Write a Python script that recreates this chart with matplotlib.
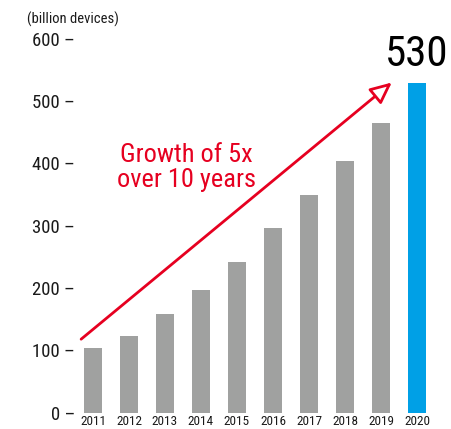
import matplotlib
matplotlib.use("Agg")
import matplotlib.pyplot as plt
from matplotlib import font_manager
from matplotlib.font_manager import FontProperties

years = ["2011", "2012", "2013", "2014", "2015", "2016", "2017", "2018", "2019", "2020"]
devices = [104, 123, 158, 197, 242, 296, 349, 404, 465, 530]
y_ticks = [0, 100, 200, 300, 400, 500, 600]
highlight_label = "530"
arrow_text = "Growth of 5x\nover 10 years"
unit_label = "(billion devices)"

# find a condensed / narrow regular font
cands = []
for f in font_manager.fontManager.ttflist:
    nm = f.name
    fn = f.fname.lower()
    if f.style != 'normal':
        continue
    if f.weight not in (400, 'normal', 'regular'):
        continue
    if 'bold' in fn or 'italic' in fn or 'oblique' in fn or 'light' in fn:
        continue
    if ('narrow' in fn or 'condensed' in fn or 'narrow' in nm.lower()
            or 'condensed' in nm.lower() or str(f.stretch) in ('condensed', 'semi-condensed')):
        cands.append(f)

def rank(f):
    fn = f.fname.lower()
    order = ['liberationsansnarrow', 'opensans_condensed', 'opensanscondensed', 'opensans-condensed',
             'notosans-condensed', 'notosanscondensed', 'robotocondensed', 'dejavusanscondensed']
    for i, k in enumerate(order):
        if k in fn.replace('_', '').replace(' ', '') or k in fn:
            return i
    return 50

cands.sort(key=rank)
if cands:
    FP = lambda size: FontProperties(fname=cands[0].fname, size=size)
else:
    FP = lambda size: FontProperties(family='DejaVu Sans', size=size)

GRAY = "#A0A1A0"
BLUE = "#00A0E6"
RED = "#E60020"
TXT = "#1a1a1a"

fig = plt.figure(figsize=(4.52, 4.29), dpi=100)
ax = fig.add_axes([75/452, (429-412.7)/429, 360/452, (412.7-38.9)/429])

x = list(range(len(years)))
colors = [GRAY] * (len(years) - 1) + [BLUE]
ax.bar(x, devices, width=0.5, color=colors)

ax.set_xlim(-0.5, len(years) - 0.5)
ax.set_ylim(0, 600)
for s in ax.spines.values():
    s.set_visible(False)

ax.set_yticks(y_ticks)
ax.set_yticklabels([f"{v} \u2013" for v in y_ticks], color=TXT)
for t in ax.get_yticklabels():
    t.set_fontproperties(FP(13.5))
ax.tick_params(axis='y', length=0, pad=0)
ax.set_xticks(x)
ax.set_xticklabels(years, color=TXT)
for t in ax.get_xticklabels():
    t.set_fontproperties(FP(9.5))
ax.tick_params(axis='x', length=0, pad=1.5)

# arrow
ax.annotate("", xy=(8.3, 530), xytext=(-0.33, 118),
            arrowprops=dict(arrowstyle="-|>,head_length=1.3,head_width=0.6",
                            color=RED, lw=2, fc="white", shrinkA=0, shrinkB=0),
            annotation_clip=False)

ax.text(2.6, 393, arrow_text, color=RED, ha="center", va="center",
        linespacing=1.05, fontproperties=FP(19))

ax.text(9.0, 542, highlight_label, ha="center", va="bottom", color="black",
        fontproperties=FP(31))

fig.text(27/452, 1 - 19/429, unit_label, ha="left", va="center", color=TXT,
         fontproperties=FP(10.5))

fig.savefig("out.png", dpi=100)
